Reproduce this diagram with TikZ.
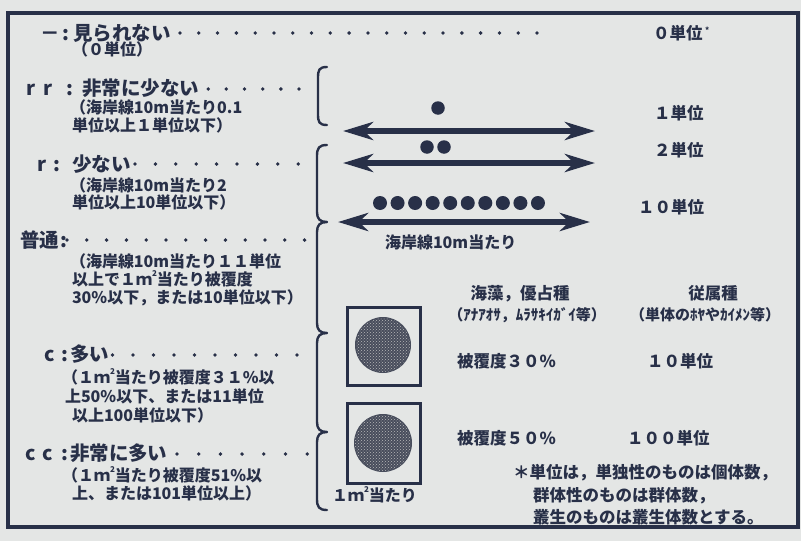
\documentclass[tikz,border=0pt]{standalone}
\usepackage{fontspec}
\newfontfamily\jp{Noto Sans CJK JP}
\usetikzlibrary{arrows.meta,patterns}
\definecolor{ink}{RGB}{40,48,72}
\definecolor{paper}{RGB}{228,230,229}
\definecolor{disc}{RGB}{72,77,92}
\begin{document}
\begin{tikzpicture}[x=1pt,y=-1pt,
  every node/.style={inner sep=0pt,outer sep=0pt,text=ink},
  mainl/.style={anchor=base west,font=\jp\bfseries\fontsize{19.5}{19.5}\selectfont},
  subl/.style={anchor=base west,font=\jp\bfseries\fontsize{16}{16}\selectfont},
  rtl/.style={anchor=base west,font=\jp\bfseries\fontsize{16.5}{16.5}\selectfont},
  rtc/.style={anchor=base,font=\jp\bfseries\fontsize{16.5}{16.5}\selectfont},
  hdc/.style={anchor=base,font=\jp\bfseries\fontsize{15}{15}\selectfont},
  lead/.style={fill=ink,circle,minimum size=3.8pt},
  bead/.style={fill=ink,circle,minimum size=13.5pt},
  dblarrow/.style={draw=ink,line width=6.5pt,{Stealth[length=30pt,width=18pt,inset=9pt]}-{Stealth[length=30pt,width=18pt,inset=9pt]}},
  brk/.style={draw=ink,line width=2.4pt,line cap=round,line join=round},
  sqbox/.style={draw=ink,line width=3pt}
]
\fill[paper] (0,0) rectangle (801,541);
\useasboundingbox (0,0) rectangle (801,541);
\draw[ink,line width=4pt] (8,13) rectangle (798,527);

% ---- left labels ----
\node[mainl] (p1) at (40,40) {－};
\node[mainl] (c1) at (62,40) {:};
\node[mainl] (m1) at (73,40) {見られない};
\node[subl] (s1) at (72,55) {（０単位）};

\node[mainl] (p2a) at (26,95) {r};
\node[mainl] (p2b) at (43,95) {r};
\node[mainl] (c2) at (66,95) {:};
\node[mainl] (m2) at (82,95) {非常に少ない};
\node[subl] (s2a) at (70,113) {（海岸線10m当たり0.1};
\node[subl] (s2b) at (72,131) {単位以上１単位以下）};

\node[mainl] (p3) at (37,171) {r};
\node[mainl] (c3) at (53,171) {:};
\node[mainl] (m3) at (72,171) {少ない};
\node[subl] (s3a) at (70,191) {（海岸線10m当たり2};
\node[subl] (s3b) at (72,208) {単位以上10単位以下）};

\node[mainl] (m4) at (20,247) {普通};
\node[mainl] (c4) at (60,247) {:};
\node[subl] (s4a) at (70,267) {（海岸線10m当たり１１単位};
\node[subl] (s4b) at (72,285) {以上で１ｍ\raisebox{0.55em}{\fontsize{8}{8}\selectfont 2}当たり被覆度};
\node[subl] (s4c) at (72,303) {30\%以下，または10単位以下）};

\node[mainl] (p5) at (45,361) {c};
\node[mainl] (c5) at (61,361) {:};
\node[mainl] (m5) at (70,361) {多い};
\node[subl] (s5a) at (62,383) {（１ｍ\raisebox{0.55em}{\fontsize{8}{8}\selectfont 2}当たり被覆度３１\%以};
\node[subl] (s5b) at (65,402) {上50\%以下、または11単位};
\node[subl] (s5c) at (72,421) {以上100単位以下）};

\node[mainl] (p6a) at (25,460) {c};
\node[mainl] (p6b) at (42,460) {c};
\node[mainl] (c6) at (61,460) {:};
\node[mainl] (m6) at (70,460) {非常に多い};
\node[subl] (s6a) at (62,481) {（１ｍ\raisebox{0.55em}{\fontsize{8}{8}\selectfont 2}当たり被覆度51\%以};
\node[subl] (s6b) at (72,499) {上、または101単位以上）};

% ---- leader dots ----
\foreach \i in {0,...,19} \node[lead] (d1-\i) at ({180+\i*18.79},33) {};
\foreach \i in {0,...,6} \node[lead] (d2-\i) at ({190+\i*18.17},89) {};
\foreach \i in {0,...,8} \node[lead] (d3-\i) at ({135+\i*20.4},164) {};
\foreach \i in {0,...,12} \node[lead] (d4-\i) at ({67+\i*19.8},240) {};
\foreach \i in {0,...,10} \node[lead] (d5-\i) at ({92+\i*20.5},355) {};
\foreach \i in {0,...,6} \node[lead] (d6-\i) at ({177+\i*21.7},454) {};

% ---- brackets ----
\draw[brk] (327,67) .. controls (319,67) and (318,70) .. (318,78) -- (318,114) .. controls (318,122) and (319,125) .. (327,125);
\draw[brk] (327,145) .. controls (319,145) and (317,148) .. (317,156) -- (317,212)
  .. controls (317,219) and (320,222) .. (327,222) .. controls (320,222) and (317,225) .. (317,232)
  -- (317,323) .. controls (317,330) and (320,333) .. (327,333) .. controls (320,333) and (317,336) .. (317,343)
  -- (317,422) .. controls (317,429) and (320,432) .. (327,432) .. controls (320,432) and (317,435) .. (317,442)
  -- (317,499) .. controls (317,507) and (319,510) .. (327,510);

% ---- arrows ----
\coordinate (a1l) at (343,131); \coordinate (a1r) at (595,131);
\coordinate (a2l) at (343,163); \coordinate (a2r) at (595,163);
\coordinate (a3l) at (338,222); \coordinate (a3r) at (590,222);
\draw[dblarrow] (a1l) -- (a1r);
\draw[dblarrow] (a2l) -- (a2r);
\draw[dblarrow] (a3l) -- (a3r);

% ---- beads ----
\node[bead] (b1) at (438,108) {};
\node[bead] (b2a) at (427,147) {};
\node[bead] (b2b) at (444,147) {};
\foreach \i in {0,...,9} \node[bead,minimum size=14pt] (b3-\i) at ({380+\i*17.55},203) {};

% ---- right labels ----
\node[rtl] (r0) at (653,39) {０単位};
\node[anchor=base west,font=\jp\bfseries\fontsize{8}{8}\selectfont] (r0s) at (705,33) {*};
\node[rtl] (r1) at (654,119) {１単位};
\node[rtl] (r2) at (654,156) {２単位};
\node[rtl] (r3) at (638,213) {１０単位};
\node[subl] (rl) at (385,248) {海岸線10m当たり};

% ---- quadrats ----
\draw[sqbox] (347,307) rectangle (420,385);
\draw[sqbox] (347,403) rectangle (420,483);
\node[circle,fill=disc,minimum size=56pt] (q1) at (383,345) {};
\node[circle,fill=disc,minimum size=58pt] (q2) at (383,443) {};
\fill[pattern=crosshatch dots,pattern color=gray!55] (q1.center) circle (27pt);
\fill[pattern=crosshatch dots,pattern color=gray!55] (q2.center) circle (28pt);
\node[subl] (ql) at (332,501) {１ｍ\raisebox{0.55em}{\fontsize{8}{8}\selectfont 2}当たり};

\node[rtc] (h1) at (520,299) {海藻，優占種};
\node[hdc] (h1b) at (527,320) {（ｱﾅｱｵｻ，ﾑﾗｻｷｲｶﾞｲ等）};
\node[rtc] (h2) at (713,299) {従属種};
\node[hdc] (h2b) at (705,320) {（単体のﾎﾔやｶｲﾒﾝ等）};

\node[rtl] (v1) at (457,367) {被覆度３０\%};
\node[rtl] (w1) at (647,367) {１０単位};
\node[rtl] (v2) at (457,444) {被覆度５０\%};
\node[rtl] (w2) at (627,444) {１００単位};

\node[rtl] (n1) at (513,478) {＊単位は，単独性のものは個体数，};
\node[rtl] (n2) at (533,501) {群体性のものは群体数，};
\node[rtl] (n3) at (533,523) {叢生のものは叢生体数とする。};
\end{tikzpicture}
\end{document}
